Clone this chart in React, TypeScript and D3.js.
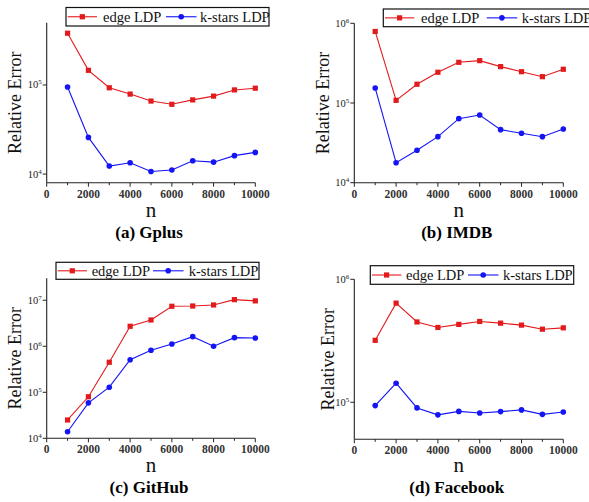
import React from "react";
import * as d3 from "d3";

const nValues = [1000, 2000, 3000, 4000, 5000, 6000, 7000, 8000, 9000, 10000];
const xTicks = [0, 2000, 4000, 6000, 8000, 10000];
const xMinorTicks = [1000, 3000, 5000, 7000, 9000];

const gplusEdge = [381000, 146000, 93000, 79000, 66000, 60700, 68000, 75000, 88000, 92000];
const gplusStars = [95000, 25800, 12300, 13400, 10700, 11100, 14100, 13600, 16100, 17500];

const imdbEdge = [790000, 108000, 172000, 243000, 324000, 340000, 286000, 247000, 214000, 265000];
const imdbStars = [154000, 17800, 25500, 37800, 63600, 70700, 46300, 41700, 37800, 47200];

const githubEdge = [25000, 80000, 450000, 2720000, 3730000, 7400000, 7500000, 7900000, 10300000, 9700000];
const githubStars = [13900, 59000, 129000, 510000, 820000, 1120000, 1620000, 1000000, 1540000, 1510000];

const facebookEdge = [319000, 640000, 450000, 406000, 430000, 454000, 440000, 424000, 393000, 403000];
const facebookStars = [94000, 143000, 90000, 79000, 84300, 81900, 84000, 86700, 79800, 83400];

const seriesNames = ["edge LDP", "k-stars LDP"];
const titles = ["(a) Gplus", "(b) IMDB", "(c) GitHub", "(d) Facebook"];
const yDomains: [number, number][] = [
  [8000, 500000],
  [10000, 1000000],
  [10000, 30000000],
  [50000, 1000000],
];
const yTickExps = [
  [4, 5],
  [4, 5, 6],
  [4, 5, 6, 7],
  [5, 6],
];

const RED = "#e31a1c";
const BLUE = "#1414f5";
const FONT = "Liberation Serif, Times New Roman, serif";

const panelData = [
  [gplusEdge, gplusStars],
  [imdbEdge, imdbStars],
  [githubEdge, githubStars],
  [facebookEdge, facebookStars],
];

// layout
const layouts = [
  { left: 46.7, right: 255.3, top: 22.7, bottom: 182.7, legend: { x: 66, y: 7.5, w: 203, h: 18.5, b: 100, bt: 134, t: 37 }, yLabX: 15, nY: 217, titleY: 238 },
  { left: 354.3, right: 563.3, top: 23.3, bottom: 182.7, legend: { x: 383.3, y: 9, w: 210, h: 17.7, b: 103.4, bt: 138.4, t: 37.7 }, yLabX: 323.3, nY: 217, titleY: 238 },
  { left: 46.7, right: 255.3, top: 278.3, bottom: 438.3, legend: { x: 56, y: 262.3, w: 203, h: 17, b: 97, bt: 132.7, t: 35.7 }, yLabX: 15, nY: 472, titleY: 493 },
  { left: 354.3, right: 563.3, top: 279.3, bottom: 439.3, legend: { x: 370.3, y: 265.7, w: 203.4, h: 18.6, b: 97.7, bt: 132.7, t: 35.7 }, yLabX: 328.3, nY: 472, titleY: 493 },
];

function Marker({ kind, x, y }: { kind: number; x: number; y: number }) {
  if (kind === 0) {
    return <rect x={x - 2.6} y={y - 2.6} width={5.2} height={5.2} fill={RED} />;
  }
  return <circle cx={x} cy={y} r={2.8} fill={BLUE} />;
}

const txt = (size: number, weight: string = "normal") => ({
  fontFamily: FONT,
  fontSize: size + "px",
  fontWeight: weight as any,
});

function Panel({ idx }: { idx: number }) {
  const L = layouts[idx];
  const x = d3.scaleLinear().domain([0, 10000]).range([L.left, L.right]);
  const y = d3.scaleLog().domain(yDomains[idx]).range([L.bottom, L.top]);
  const colors = [RED, BLUE];
  const line = d3
    .line<[number, number]>()
    .x((d) => x(d[0]))
    .y((d) => y(d[1]));
  const lg = L.legend;
  const midY = (L.top + L.bottom) / 2;
  return (
    <g>
      <line x1={L.left} x2={L.left} y1={L.top} y2={L.bottom} stroke="#222" strokeWidth={1.1} />
      <line x1={L.left} x2={L.right} y1={L.bottom} y2={L.bottom} stroke="#222" strokeWidth={1.1} />
      {xTicks.map((t) => (
        <g key={"xt" + t}>
          <line x1={x(t)} x2={x(t)} y1={L.bottom} y2={L.bottom + 4} stroke="#222" strokeWidth={1} />
          <text x={x(t)} y={L.bottom + 15} textAnchor="middle" style={txt(11.5, "bold")} fill="#333">
            {t}
          </text>
        </g>
      ))}
      {xMinorTicks.map((t) => (
        <line key={"xm" + t} x1={x(t)} x2={x(t)} y1={L.bottom} y2={L.bottom + 2.5} stroke="#222" strokeWidth={1} />
      ))}
      {yTickExps[idx].map((e) => {
        const yy = y(Math.pow(10, e));
        return (
          <g key={"yt" + e}>
            <line x1={L.left - 4} x2={L.left} y1={yy} y2={yy} stroke="#222" strokeWidth={1} />
            <text x={L.left - 5} y={yy + 3.5} textAnchor="end" style={txt(10.5)} fill="#222">
              10
              <tspan style={{ fontSize: "7px" }} dy={-4}>
                {e}
              </tspan>
            </text>
          </g>
        );
      })}
      {panelData[idx].map((vals, s) => {
        const pts: [number, number][] = nValues.map((n, i) => [n, vals[i]]);
        return (
          <g key={"s" + s}>
            <path d={line(pts) || ""} fill="none" stroke={colors[s]} strokeWidth={1.1} />
            {pts.map((p, i) => (
              <Marker key={i} kind={s} x={x(p[0])} y={y(p[1])} />
            ))}
          </g>
        );
      })}
      <rect x={lg.x} y={lg.y} width={lg.w} height={lg.h} fill="white" stroke="#111" strokeWidth={1.2} />
      <line x1={lg.x + 1.7} x2={lg.x + 31} y1={lg.y + lg.h / 2} y2={lg.y + lg.h / 2} stroke={RED} strokeWidth={1.1} />
      <Marker kind={0} x={lg.x + 16.3} y={lg.y + lg.h / 2} />
      <text x={lg.x + lg.t} y={lg.y + lg.h / 2 + 5} style={txt(14.5)} fill="#111">
        {seriesNames[0]}
      </text>
      <line x1={lg.x + lg.b} x2={lg.x + lg.b + 30.5} y1={lg.y + lg.h / 2} y2={lg.y + lg.h / 2} stroke={BLUE} strokeWidth={1.1} />
      <Marker kind={1} x={lg.x + lg.b + 15.2} y={lg.y + lg.h / 2} />
      <text x={lg.x + lg.bt} y={lg.y + lg.h / 2 + 5} style={txt(14.5)} fill="#111">
        {seriesNames[1]}
      </text>
      <text
        transform={`translate(${L.yLabX + 6},${midY}) rotate(-90)`}
        textAnchor="middle"
        style={txt(18)}
        fill="#111"
      >
        Relative Error
      </text>
      <text x={(L.left + L.right) / 2} y={L.nY} textAnchor="middle" style={txt(21)} fill="#111">
        n
      </text>
      <text x={(L.left + L.right) / 2 - 2} y={L.titleY} textAnchor="middle" style={txt(17, "bold")} fill="#000">
        {titles[idx]}
      </text>
    </g>
  );
}

export default function App() {
  return (
    <svg width={589} height={502} style={{ position: "absolute", left: 0, top: 0, background: "white" }}>
      <rect x={0} y={0} width={589} height={502} fill="white" />
      {[0, 1, 2, 3].map((i) => (
        <Panel key={i} idx={i} />
      ))}
    </svg>
  );
}
